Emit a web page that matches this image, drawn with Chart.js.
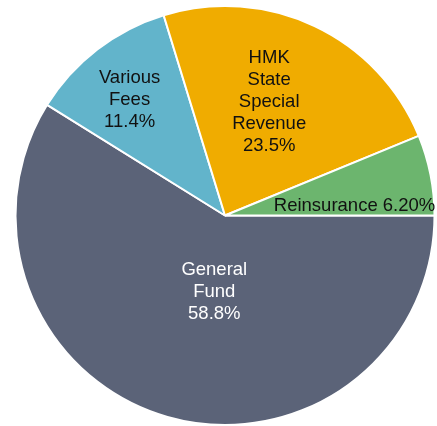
<!DOCTYPE html>
<html>
<head>
<meta charset="utf-8">
<script src="https://cdn.jsdelivr.net/npm/chart.js@4"></script>
<style>
  html, body { margin: 0; padding: 0; background: #ffffff; }
  #wrap { width: 437px; height: 426px; }
</style>
</head>
<body>
<div id="wrap"><canvas id="pie"></canvas></div>
<script>
// Slice data, in clockwise order starting at 3 o'clock
const categories = ['General Fund', 'Various Fees', 'HMK State Special Revenue', 'Reinsurance'];
const shares = [58.8, 11.4, 23.5, 6.2];
const labelLines = [
    ['General', 'Fund', '58.8%'],
    ['Various', 'Fees', '11.4%'],
    ['HMK', 'State', 'Special', 'Revenue', '23.5%'],
    ['Reinsurance 6.20%']
];

const sliceColors = ['#5b6378', '#62b4cb', '#f0ac00', '#6cb56e'];
const textColors = ['#ffffff', '#111111', '#111111', '#111111'];
// where each label sits: fraction of radius, and angle tweak (deg) from the slice middle
const labelPlacement = [
    { r: 0.37, shift: -8 },
    { r: 0.715, shift: -2 },
    { r: 0.58, shift: -4 },
    { r: 0.62, shift: 7 }
];

// Draws the multi-line labels inside the slices
const sliceLabels = {
    id: 'sliceLabels',
    afterDatasetsDraw(chart) {
        const ctx = chart.ctx;
        const meta = chart.getDatasetMeta(0);
        ctx.save();
        ctx.font = '18.5px "Liberation Sans", Arial, sans-serif';
        ctx.textAlign = 'center';
        ctx.textBaseline = 'middle';
        meta.data.forEach((arc, i) => {
            const p = arc.getProps(['x', 'y', 'startAngle', 'endAngle', 'outerRadius'], true);
            const mid = (p.startAngle + p.endAngle) / 2 + labelPlacement[i].shift * Math.PI / 180;
            const dist = p.outerRadius * labelPlacement[i].r;
            const cx = p.x + Math.cos(mid) * dist;
            const cy = p.y + Math.sin(mid) * dist;
            const lines = labelLines[i];
            const lh = 22;
            ctx.fillStyle = textColors[i];
            lines.forEach((line, j) => {
                ctx.fillText(line, cx, cy + (j - (lines.length - 1) / 2) * lh);
            });
        });
        ctx.restore();
    }
};

new Chart(document.getElementById('pie'), {
    type: 'pie',
    data: {
        labels: categories,
        datasets: [{
            data: shares,
            backgroundColor: sliceColors,
            borderColor: '#ffffff',
            borderWidth: 2
        }]
    },
    options: {
        responsive: true,
        maintainAspectRatio: false,
        animation: false,
        rotation: 90, // first slice starts at 3 o'clock
        layout: { padding: { left: 13, right: 0, top: 5, bottom: 0 } },
        plugins: {
            legend: { display: false },
            tooltip: { enabled: false }
        }
    },
    plugins: [sliceLabels]
});
</script>
</body>
</html>
